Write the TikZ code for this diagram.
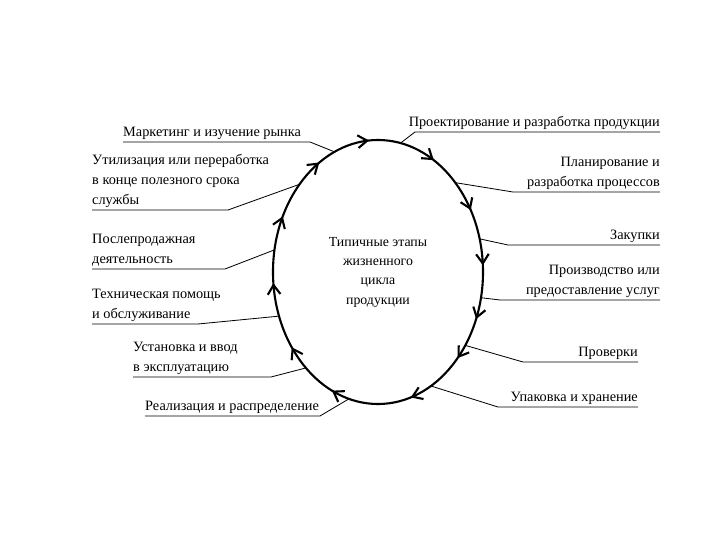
\documentclass[tikz,border=0pt]{standalone}
\usepackage{fontspec}
\setmainfont{Liberation Serif}
\usepackage{tikz}
\usetikzlibrary{shapes.geometric, arrows.meta, decorations.markings}
\tikzset{
  barb/.tip={Straight Barb[length=2.8mm, width=3.8mm]},
  stage/.style={ellipse, minimum width=6.3cm, minimum height=7.92cm, align=center, font=\fontsize{11.8}{16.5}\selectfont},
  lstage/.style={anchor=south west, align=left, inner xsep=0pt, inner ysep=2pt, font=\fontsize{12.2}{16.8}\selectfont},
  rstage/.style={anchor=south east, align=right, inner xsep=0pt, inner ysep=2pt, font=\fontsize{12.2}{16.8}\selectfont},
  lead/.style={line width=0.7pt},
  ring/.style={line width=1.8pt, postaction={decorate}, decoration={markings,
    mark=at position 0.009 with {\arrowreversed{barb}},
    mark=at position 0.085 with {\arrowreversed{barb}},
    mark=at position 0.169 with {\arrowreversed{barb}},
    mark=at position 0.262 with {\arrowreversed{barb}},
    mark=at position 0.336 with {\arrowreversed{barb}},
    mark=at position 0.424 with {\arrowreversed{barb}},
    mark=at position 0.515 with {\arrowreversed{barb}},
    mark=at position 0.605 with {\arrowreversed{barb}},
    mark=at position 0.685 with {\arrowreversed{barb}},
    mark=at position 0.795 with {\arrowreversed{barb}},
    mark=at position 0.878 with {\arrowreversed{barb}},
    mark=at position 0.936 with {\arrowreversed{barb}}}},
}
\begin{document}
\begin{tikzpicture}[x=0.03cm, y=-0.03cm]
\useasboundingbox (0,0) rectangle (720,540);
\node[stage] (cycle) at (378,272) {Типичные этапы\\жизненного\\цикла\\продукции};
\draw[ring] (cycle.center) ellipse [x radius=3.15cm, y radius=3.96cm];
\node[lstage] (mkt) at (123,142) {Маркетинг и изучение рынка};
\node[lstage] (util) at (92,210) {Утилизация или переработка\\в конце полезного срока\\службы};
\node[lstage] (post) at (92,269) {Послепродажная\\деятельность};
\node[lstage] (tech) at (92,324) {Техническая помощь\\и обслуживание};
\node[lstage] (inst) at (133,377) {Установка и ввод\\в эксплуатацию};
\node[lstage] (dist) at (145,416) {Реализация и распределение};
\node[rstage] (design) at (660,132) {Проектирование и разработка продукции};
\node[rstage] (plan) at (660,192) {Планирование и\\разработка процессов};
\node[rstage] (buy) at (660,245) {Закупки};
\node[rstage] (prod) at (660,300) {Производство или\\предоставление услуг};
\node[rstage] (check) at (638,362) {Проверки};
\node[rstage] (pack) at (638,407) {Упаковка и хранение};
\draw[lead] (mkt.south west) -- ++(187,0) -- (cycle.110);
\draw[lead] (util.south west) -- ++(136,0) -- (cycle.132);
\draw[lead] (post.south west) -- ++(133,0) -- (cycle.168);
\draw[lead] (tech.south west) -- ++(106,0) -- (cycle.204);
\draw[lead] (inst.south west) -- ++(138,0) -- (cycle.233);
\draw[lead] (dist.south west) -- ++(175,0) -- (cycle.257);
\draw[lead] (design.south east) -- ++(-245,0) -- (cycle.80);
\draw[lead] (plan.south east) -- ++(-147,0) -- (cycle.49);
\draw[lead] (buy.south east) -- ++(-152,0) -- (cycle.18);
\draw[lead] (prod.south east) -- ++(-160,0) -- (cycle.346);
\draw[lead] (check.south east) -- ++(-115,0) -- (cycle.320);
\draw[lead] (pack.south east) -- ++(-140,0) -- (cycle.295);
\end{tikzpicture}
\end{document}
